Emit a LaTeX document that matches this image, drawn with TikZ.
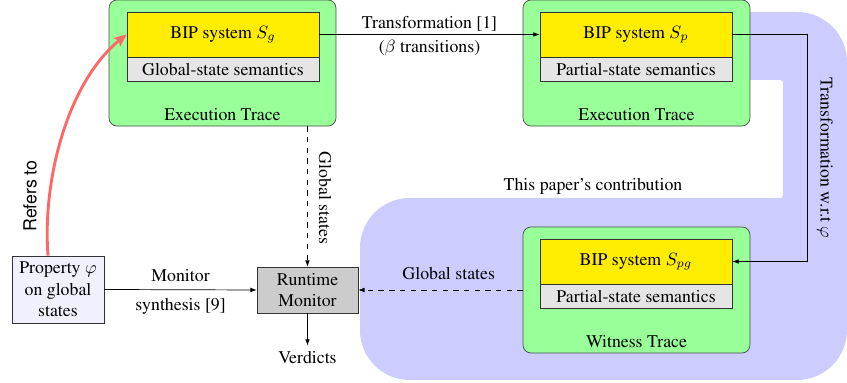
\documentclass[tikz,border=0pt]{standalone}
\usepackage[T1]{fontenc}
\usepackage{times}
\usetikzlibrary{arrows.meta}
\definecolor{boxgreen}{RGB}{153,255,153}
\definecolor{boxyellow}{RGB}{255,237,0}
\definecolor{lav}{RGB}{204,204,255}
\definecolor{propfill}{RGB}{240,240,255}
\definecolor{refred}{RGB}{255,102,102}
\begin{document}
\begin{tikzpicture}[x=0.5618pt,y=-0.5618pt,
  font=\fontsize{10}{12}\selectfont,
  >={Latex[length=3.5pt,width=2.6pt]},
  trace/.style={draw=black!70, fill=boxgreen, rounded corners=4.5pt, minimum width=127.5pt, minimum height=70.8pt, inner sep=0pt},
  sys/.style={draw=black!80, fill=boxyellow, minimum width=107.9pt, minimum height=25.3pt, inner sep=0pt},
  sem/.style={draw=black!80, fill=black!10, minimum width=107.9pt, minimum height=13.2pt, inner sep=0pt, anchor=north},
  plainbox/.style={draw=black!80, minimum height=25.8pt, inner sep=0pt, align=center},
  lbl/.style={inner sep=1.5pt}]
\useasboundingbox (0,0) rectangle (847,383);
% lavender contribution region
\fill[lav] (700,12) [rounded corners=28pt] -- (847,12) -- (847,380) -- (360,380) -- (360,198) [rounded corners=1.5pt] -- (783,198) -- (783,80) [sharp corners] -- (700,80) -- cycle;

% top-left trace
\node[trace] (gL) at (222.5,63) {};
\node[sys] (yL) at (223,34.5) {BIP system $S_g$};
\node[sem] (sL) at (yL.south) {Global-state semantics};
\node (tL) at (222.5,115) {Execution Trace};

% top-right trace
\node[trace] (gR) at (636.5,63) {};
\node[sys] (yR) at (636,34.5) {BIP system $S_p$};
\node[sem] (sR) at (yR.south) {Partial-state semantics};
\node (tR) at (636.5,115) {Execution Trace};

% witness trace
\node[trace] (gW) at (636.5,290) {};
\node[sys] (yW) at (636,261.5) {BIP system $S_{pg}$};
\node[sem] (sW) at (yW.south) {Partial-state semantics};
\node (tW) at (636.5,342) {Witness Trace};

% monitor, property, verdicts
\node[plainbox, fill=black!20, minimum width=56.7pt] (mon) at (307.5,290) {Runtime\\Monitor};
\node[plainbox, fill=propfill, minimum width=51.7pt, minimum height=37.6pt] (prop) at (58,289.5) {Property $\varphi$\\on global\\states};
\node (ver) at (307.5,358) {Verdicts};

\node (contrib) at (593,186) {This paper's contribution};
\node[rotate=-90] (twrt) at (825,158) {Transformation w.r.t $\varphi$};
\node[rotate=-90] (gs1) at (325,198) {Global states};
\node[rotate=90, font=\sffamily\fontsize{10}{12}\selectfont] (ref) at (30,196) {Refers to};

% connectors
\draw[->] (yL.east) -- node[lbl, above] {Transformation [1]} node[lbl, below=1.5pt] {($\beta$ transitions)} (yR.west);
\coordinate (tr) at (807,34.5);
\draw[->] (yR.east) -- (tr) |- (yW.east);
\draw[->, dashed] (gL.south -| mon.north) -- (mon.north);
\draw[->, dashed] (gW.west) -- node[pos=0.45, above=2pt] {Global states} (mon.east);
\draw[->] (prop.east) -- node[above=1pt] {Monitor} node[below=1.5pt] {synthesis [9]} (mon.west);
\draw[->] (mon.south) -- (ver.north);
\draw[refred, line width=1.6pt, -{Stealth[length=7pt,width=6pt,inset=1.5pt]}] ([xshift=-5.6pt]prop.north) .. controls (42,175) and (70,80) .. (yL.west);
\end{tikzpicture}
\end{document}
